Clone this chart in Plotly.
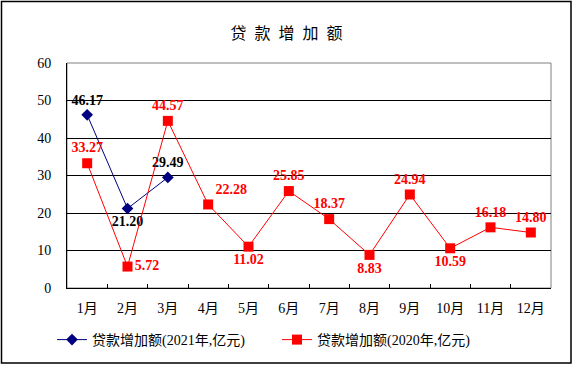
import plotly.graph_objects as go

months = ["1月", "2月", "3月", "4月", "5月", "6月", "7月", "8月", "9月", "10月", "11月", "12月"]
loan_2021 = [46.17, 21.20, 29.49]
loan_2020 = [33.27, 5.72, 44.57, 22.28, 11.02, 25.85, 18.37, 8.83, 24.94, 10.59, 16.18, 14.80]
pos_2021 = ["top center", "bottom center", "top center"]
pos_2020 = ["top center", "middle right", "top center", "top right", "bottom center", "top center",
            "top center", "bottom center", "top center", "bottom center", "top center", "top center"]

serif = "Liberation Serif, Times New Roman, Noto Sans CJK SC"
fig = go.Figure()
fig.add_trace(go.Scatter(
    x=months[:len(loan_2021)], y=loan_2021, mode="lines+markers+text",
    name="贷款增加额(2021年,亿元)",
    line=dict(color="#000080", width=1),
    marker=dict(symbol="diamond", size=9, color="#000080"),
    text=[f"{v:.2f}" for v in loan_2021], textposition=pos_2021,
    textfont=dict(family=serif, size=14, color="black", weight="bold"),
))
fig.add_trace(go.Scatter(
    x=months, y=loan_2020, mode="lines+markers+text",
    name="贷款增加额(2020年,亿元)",
    line=dict(color="#ff0000", width=1),
    marker=dict(symbol="square", size=10, color="#ff0000"),
    text=[f"{v:.2f}" for v in loan_2020], textposition=pos_2020,
    textfont=dict(family=serif, size=14, color="#ff0000", weight="bold"),
))

L, R, T, B = 67, 551, 63, 288
pw, ph = R - L, B - T
def px(x): return (x - L) / pw
def py(y): return (B - y) / ph

fig.update_layout(
    width=573, height=365,
    margin=dict(l=L, r=573 - R, t=T, b=365 - B, autoexpand=False),
    paper_bgcolor="white", plot_bgcolor="white",
    title=dict(text="贷\u2002款\u2002增\u2002加\u2002额", x=0.5, xanchor="center", y=1 - 33 / 365, yanchor="middle",
               font=dict(family="Noto Sans CJK SC", size=16, color="black")),
    showlegend=True,
    legend=dict(orientation="h", x=px(52), xanchor="left", y=py(340), yanchor="middle",
                font=dict(family=serif, size=14, color="black"), itemwidth=30,
                tracegroupgap=0, entrywidthmode="pixels", entrywidth=180,
                bgcolor="rgba(0,0,0,0)"),
    xaxis=dict(range=[-0.5, len(months) - 0.5], autorange=False,
               showline=True, linecolor="black", linewidth=1, ticks="inside", ticklen=4,
               tickson="boundaries", tickcolor="black", showgrid=False, ticklabelstandoff=7,
               tickfont=dict(family=serif, size=14, color="black"), fixedrange=True),
    yaxis=dict(range=[0, 60], dtick=10, showline=True, linecolor="black", linewidth=1,
               showgrid=True, gridcolor="black", gridwidth=1, ticks="", ticklabelstandoff=12,
               tickfont=dict(family=serif, size=14, color="black"), zeroline=False),
    shapes=[
        dict(type="rect", xref="paper", yref="paper", x0=0, x1=1, y0=0, y1=1,
             line=dict(color="#808080", width=1), layer="below"),
        dict(type="rect", xref="paper", yref="paper", x0=px(1.5), x1=px(571), y0=py(1.5), y1=py(363),
             line=dict(color="black", width=1.5)),
    ],
)
fig.write_html("out.html", config={"displayModeBar": False},
               post_script="document.body.style.margin='0';document.body.style.overflow='hidden';")
